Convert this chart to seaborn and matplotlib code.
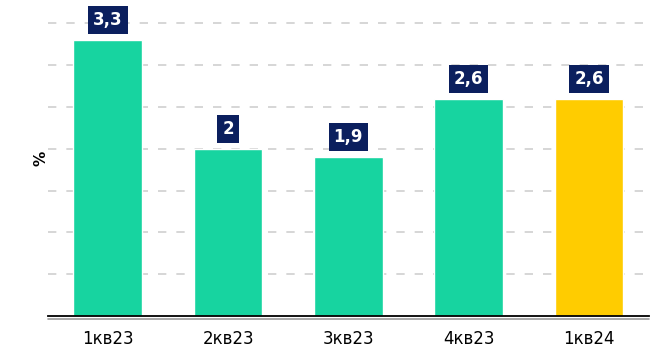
import matplotlib
matplotlib.use('Agg')
import matplotlib.pyplot as plt
import matplotlib.transforms as mtransforms
import seaborn as sns
import pandas as pd

# данные
quarters = ['1кв23', '2кв23', '3кв23', '4кв23', '1кв24']
values = [3.3, 2.0, 1.9, 2.6, 2.6]
labels = ['3,3', '2', '1,9', '2,6', '2,6']
colors = ['#17d4a0', '#17d4a0', '#17d4a0', '#17d4a0', '#ffcc00']

df = pd.DataFrame({'quarter': quarters, 'value': values})

sns.set_style('white')
plt.rcParams['font.family'] = ['DejaVu Sans']

fig = plt.figure(figsize=(6.7, 3.62), dpi=100)
ax = fig.add_axes([0.071, 0.127, 0.898, 0.873])

sns.barplot(data=df, x='quarter', y='value', hue='quarter', palette=colors,
            legend=False, width=0.57, saturation=1, ax=ax)

ax.set_ylim(0, 3.78)
ax.set_xlim(-0.5, 4.5)
ax.set_yticks([0.5, 1.0, 1.5, 2.0, 2.5, 3.0, 3.5])
ax.set_yticklabels([])
ax.tick_params(axis='y', length=0)
ax.tick_params(axis='x', length=0, labelsize=12, labelcolor='black', pad=10)
ax.yaxis.grid(True, color='#cfcfcf', linestyle=(0, (5, 6)), linewidth=1.2)
ax.set_axisbelow(True)

for s in ['top', 'right', 'left']:
    ax.spines[s].set_visible(False)
ax.spines['bottom'].set_color('black')
ax.spines['bottom'].set_linewidth(1.3)

# вторая серая линия под осью
off = mtransforms.offset_copy(ax.transData, fig=fig, x=0, y=-2.5, units='dots')
ax.plot([-0.5, 4.5], [0, 0], color='#9a9a9a', lw=1.2, transform=off, clip_on=False)

ax.set_xlabel('')
ax.set_ylabel('%', fontsize=11, fontweight='bold', color='black', labelpad=-4)

# подписи значений
for i, (v, t) in enumerate(zip(values, labels)):
    ax.annotate(t, (i, v), xytext=(0, 20), textcoords='offset pixels',
                ha='center', va='center', color='white', fontsize=12,
                fontweight='bold',
                bbox=dict(boxstyle='square,pad=0.3', fc='#0b1f5e', ec='none'))

plt.savefig('out.png', dpi=100)
plt.close()
